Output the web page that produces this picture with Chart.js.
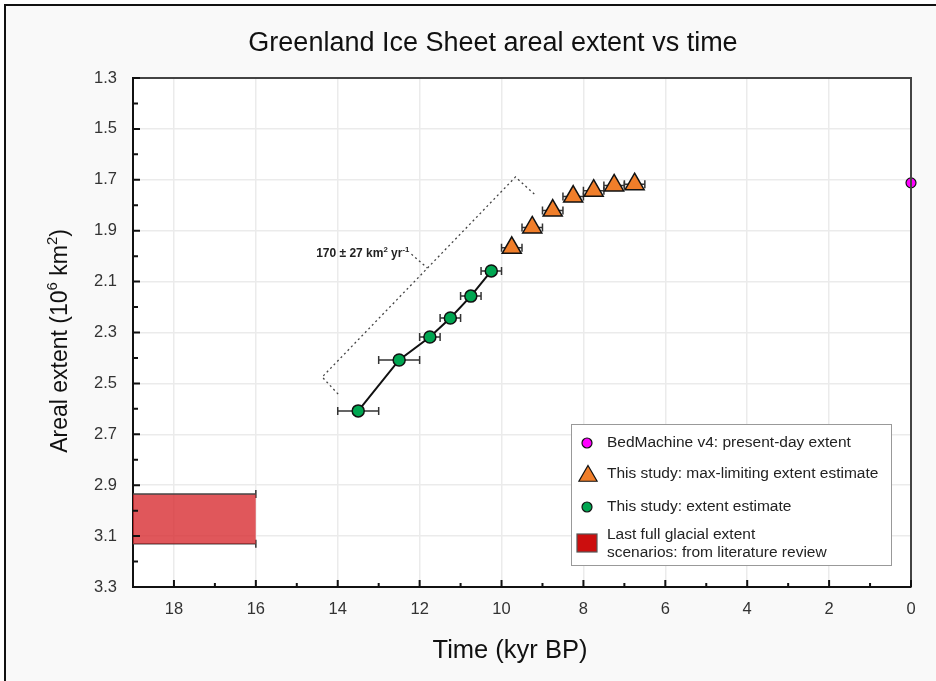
<!DOCTYPE html>
<html>
<head>
<meta charset="utf-8">
<script src="https://cdn.jsdelivr.net/npm/chart.js@4.4.1/dist/chart.umd.min.js"></script>
<style>
  html, body { margin: 0; padding: 0; background: #fff; }
  canvas { display: block; }
</style>
</head>
<body>
<canvas id="extentChart" width="936" height="681"></canvas>
<script>
// data (time in kyr BP, extent in 10^6 km^2)
const presentTime = [0];
const presentExtent = [1.712];

const maxTime = [9.75, 9.25, 8.75, 8.25, 7.75, 7.25, 6.75];
const maxExtent = [1.967, 1.887, 1.821, 1.766, 1.743, 1.722, 1.717];
const maxErr = [0.25, 0.25, 0.25, 0.25, 0.25, 0.25, 0.25];

const estTime = [13.5, 12.5, 11.75, 11.25, 10.75, 10.25];
const estExtent = [2.608, 2.408, 2.318, 2.243, 2.157, 2.058];
const estErr = [0.5, 0.5, 0.25, 0.25, 0.25, 0.25];

// last full glacial extent range
const lgmTime = [19, 16];
const lgmExtent = [2.935, 3.13];

// dotted rate bracket + leader
const bracketTime = [13.99, 14.38, 9.66, 9.2];
const bracketExtent = [2.542, 2.475, 1.689, 1.756];
const leaderTime = [12.2, 11.81];
const leaderExtent = [1.992, 2.047];
const rateLabel = [['170 ± 27 km', false], ['2', true], [' yr', false], ['-1', true]];
const rateAt = [12.25, 2.003];

const xMajorTicks = [18, 16, 14, 12, 10, 8, 6, 4, 2, 0];
const xMinorTicks = [17, 15, 13, 11, 9, 7, 5, 3, 1];
const yMajorTicks = [1.3, 1.5, 1.7, 1.9, 2.1, 2.3, 2.5, 2.7, 2.9, 3.1, 3.3];
const yMinorTicks = [1.4, 1.6, 1.8, 2.0, 2.2, 2.4, 2.6, 2.8, 3.0, 3.2];

const legendItems = [
  'BedMachine v4: present-day extent',
  'This study: max-limiting extent estimate',
  'This study: extent estimate',
  ['Last full glacial extent', 'scenarios: from literature review']
];

const FONT = '"Liberation Sans", Arial, sans-serif';
Chart.defaults.font.family = FONT;

const pts = (xs, ys) => xs.map((x, i) => ({ x: x, y: ys[i] }));

function richText(ctx, parts, x, y, size, weight, align) {
  const f = s => weight + ' ' + s + 'px ' + FONT;
  let w = 0;
  parts.forEach(([t, sup]) => { ctx.font = f(sup ? size * 0.65 : size); w += ctx.measureText(t).width; });
  let cx = align === 'center' ? x - w / 2 : align === 'right' ? x - w : x;
  ctx.textAlign = 'left';
  ctx.textBaseline = 'alphabetic';
  parts.forEach(([t, sup]) => {
    ctx.font = f(sup ? size * 0.65 : size);
    ctx.fillText(t, cx, sup ? y - size * 0.42 : y);
    cx += ctx.measureText(t).width;
  });
}

function triangle(ctx, x, y, r) {
  ctx.beginPath();
  ctx.moveTo(x, y - r);
  ctx.lineTo(x + r * 0.866, y + r * 0.5);
  ctx.lineTo(x - r * 0.866, y + r * 0.5);
  ctx.closePath();
}

const decor = {
  id: 'decor',
  beforeDraw(chart) {
    const ctx = chart.ctx, a = chart.chartArea;
    ctx.save();
    ctx.fillStyle = '#fff';
    ctx.fillRect(0, 0, chart.width, chart.height);
    ctx.fillStyle = '#f9f9f9';
    ctx.fillRect(6, 6, chart.width, chart.height);
    ctx.strokeStyle = '#111';
    ctx.lineWidth = 2;
    ctx.beginPath();
    ctx.moveTo(5, chart.height); ctx.lineTo(5, 5); ctx.lineTo(chart.width, 5);
    ctx.stroke();
    ctx.fillStyle = '#fff';
    ctx.fillRect(a.left, a.top, a.right - a.left, a.bottom - a.top);
    ctx.restore();
  },
  beforeDatasetsDraw(chart) {
    const ctx = chart.ctx, xs = chart.scales.x, ys = chart.scales.y;
    ctx.save();
    ctx.strokeStyle = '#333';
    ctx.lineWidth = 1.5;
    const bars = (t, v, e) => t.forEach((x, i) => {
      const x1 = xs.getPixelForValue(x - e[i]), x2 = xs.getPixelForValue(x + e[i]);
      const y = ys.getPixelForValue(v[i]);
      ctx.beginPath();
      ctx.moveTo(x1, y); ctx.lineTo(x2, y);
      ctx.moveTo(x1, y - 4); ctx.lineTo(x1, y + 4);
      ctx.moveTo(x2, y - 4); ctx.lineTo(x2, y + 4);
      ctx.stroke();
    });
    bars(maxTime, maxExtent, maxErr);
    bars(estTime, estExtent, estErr);
    // caps at the end of the glacial box
    const bx = xs.getPixelForValue(lgmTime[1]);
    lgmExtent.forEach(v => {
      const y = ys.getPixelForValue(v);
      ctx.beginPath(); ctx.moveTo(bx, y - 4); ctx.lineTo(bx, y + 4); ctx.stroke();
    });
    ctx.restore();
  },
  afterDraw(chart) {
    const ctx = chart.ctx, a = chart.chartArea, xs = chart.scales.x, ys = chart.scales.y;
    ctx.save();
    // top and right frame
    ctx.strokeStyle = '#444';
    ctx.lineWidth = 2;
    ctx.beginPath();
    ctx.moveTo(a.left, a.top); ctx.lineTo(a.right, a.top); ctx.lineTo(a.right, a.bottom);
    ctx.stroke();
    // inside ticks
    ctx.strokeStyle = '#111';
    ctx.lineWidth = 2;
    ctx.beginPath();
    xMajorTicks.concat(xMinorTicks).forEach((v, i) => {
      const x = xs.getPixelForValue(v), len = i < xMajorTicks.length ? 7 : 4;
      ctx.moveTo(x, a.bottom); ctx.lineTo(x, a.bottom - len);
    });
    yMajorTicks.concat(yMinorTicks).forEach((v, i) => {
      const y = ys.getPixelForValue(v), len = i < yMajorTicks.length ? 7 : 5;
      ctx.moveTo(a.left, y); ctx.lineTo(a.left + len, y);
    });
    ctx.stroke();

    // titles
    ctx.fillStyle = '#111';
    richText(ctx, [['Greenland Ice Sheet areal extent vs time', false]], 493, 51, 27, 'normal', 'center');
    richText(ctx, [['Time (kyr BP)', false]], 510, 658, 25.5, 'normal', 'center');
    ctx.save();
    ctx.translate(67, 341);
    ctx.rotate(-Math.PI / 2);
    richText(ctx, [['Areal extent (10', false], ['6', true], [' km', false], ['2', true], [')', false]], 0, 0, 23, 'normal', 'center');
    ctx.restore();

    // rate annotation
    ctx.fillStyle = '#222';
    richText(ctx, rateLabel, xs.getPixelForValue(rateAt[0]), ys.getPixelForValue(rateAt[1]), 12, 'bold', 'right');

    // legend box
    const L = 571, T = 424, R = 891, B = 565;
    ctx.fillStyle = '#fff';
    ctx.fillRect(L, T, R - L, B - T);
    ctx.strokeStyle = '#999';
    ctx.lineWidth = 1;
    ctx.strokeRect(L + 0.5, T + 0.5, R - L, B - T);
    ctx.lineWidth = 1.2;
    ctx.strokeStyle = '#111';
    ctx.fillStyle = '#ff00ff';
    ctx.beginPath(); ctx.arc(587, 443, 5, 0, Math.PI * 2); ctx.fill(); ctx.stroke();
    ctx.fillStyle = '#f07e2a';
    triangle(ctx, 588, 476, 10.5); ctx.fill(); ctx.stroke();
    ctx.fillStyle = '#00a651';
    ctx.beginPath(); ctx.arc(587, 507, 5, 0, Math.PI * 2); ctx.fill(); ctx.stroke();
    ctx.fillStyle = '#cc0e0e';
    ctx.fillRect(577, 534, 20, 18); ctx.strokeStyle = '#555'; ctx.strokeRect(577, 534, 20, 18);
    ctx.fillStyle = '#222';
    ctx.font = '15.5px ' + FONT;
    ctx.textAlign = 'left';
    ctx.textBaseline = 'middle';
    ctx.fillText(legendItems[0], 607, 443);
    ctx.fillText(legendItems[1], 607, 474);
    ctx.fillText(legendItems[2], 607, 507);
    ctx.fillText(legendItems[3][0], 607, 535);
    ctx.fillText(legendItems[3][1], 607, 553);
    ctx.restore();
  }
};

const ctx = document.getElementById('extentChart').getContext('2d');
const extentChart = new Chart(ctx, {
  type: 'scatter',
  data: {
    datasets: [
      {
        label: 'BedMachine v4: present-day extent',
        data: pts(presentTime, presentExtent),
        backgroundColor: '#ff00ff',
        borderColor: '#111',
        borderWidth: 1.2,
        pointRadius: 5,
        clip: false,
        order: 0
      },
      {
        label: 'This study: max-limiting extent estimate',
        data: pts(maxTime, maxExtent),
        pointStyle: 'triangle',
        backgroundColor: '#f07e2a',
        borderColor: '#111',
        borderWidth: 1.5,
        pointRadius: 11,
        order: 1
      },
      {
        type: 'line',
        label: 'This study: extent estimate',
        data: pts(estTime, estExtent),
        backgroundColor: '#00a651',
        borderColor: '#111',
        borderWidth: 2,
        pointBackgroundColor: '#00a651',
        pointBorderColor: '#111',
        pointBorderWidth: 1.5,
        pointRadius: 6,
        fill: false,
        order: 2
      },
      {
        type: 'line',
        label: 'Last full glacial extent',
        data: pts(lgmTime, [lgmExtent[0], lgmExtent[0]]),
        borderColor: '#444',
        borderWidth: 1.5,
        backgroundColor: 'rgba(215, 40, 45, 0.78)',
        pointRadius: 0,
        fill: '+1',
        order: 5
      },
      {
        type: 'line',
        label: 'lgm bottom',
        data: pts(lgmTime, [lgmExtent[1], lgmExtent[1]]),
        borderColor: '#444',
        borderWidth: 1.5,
        pointRadius: 0,
        fill: false,
        order: 6
      },
      {
        type: 'line',
        label: 'bracket',
        data: pts(bracketTime, bracketExtent),
        borderColor: '#444',
        borderWidth: 1.3,
        borderDash: [2, 3],
        pointRadius: 0,
        fill: false,
        order: 4
      },
      {
        type: 'line',
        label: 'leader',
        data: pts(leaderTime, leaderExtent),
        borderColor: '#444',
        borderWidth: 1.3,
        borderDash: [2, 3],
        pointRadius: 0,
        fill: false,
        order: 4
      }
    ]
  },
  options: {
    responsive: false,
    animation: false,
    layout: { padding: { top: 78, right: 25, left: 0, bottom: 0 } },
    plugins: {
      legend: { display: false },
      tooltip: { enabled: false },
      title: { display: false }
    },
    scales: {
      x: {
        type: 'linear',
        min: 0,
        max: 19,
        reverse: true,
        afterBuildTicks: s => { s.ticks = xMajorTicks.map(v => ({ value: v })); },
        afterFit: s => { s.height = 94; },
        ticks: { color: '#333', font: { size: 16.5 }, padding: 13, callback: v => String(v) },
        grid: { color: '#ebebeb', lineWidth: 1.5, drawTicks: false },
        border: { color: '#111', width: 2 }
      },
      y: {
        min: 1.3,
        max: 3.3,
        reverse: true,
        afterBuildTicks: s => { s.ticks = yMajorTicks.map(v => ({ value: v })); },
        afterFit: s => { s.width = 133; },
        ticks: { color: '#333', font: { size: 16.5 }, padding: 16, callback: v => v.toFixed(1) },
        grid: { color: '#ebebeb', lineWidth: 1.5, drawTicks: false },
        border: { color: '#111', width: 2 }
      }
    }
  },
  plugins: [decor]
});
</script>
</body>
</html>
